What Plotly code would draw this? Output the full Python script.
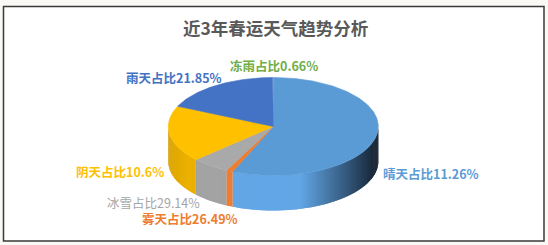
import math
import plotly.graph_objects as go

# ---- data ----
categories = ["晴天", "雾天", "冰雪", "阴天", "雨天", "冻雨"]
slice_shares = [56.0, 1.0, 5.8, 18.5, 18.0, 0.1]          # visual slice sizes (%)
label_pcts = ["11.26%", "26.49%", "29.14%", "10.6%", "21.85%", "0.66%"]  # printed in labels
title_text = "近3年春运天气趋势分析"

# ---- styles / layout ----
top_colors = ["#5B9BD5", "#ED7D31", "#A9A9A9", "#FFC000", "#4472C4", "#70AD47"]
side_base = ["#62A6E6", "#EE7D31", "#A3A3A3", "#EBB000", "#3F6AB8", "#64A03F"]
side_dark = ["#0E1824", "#7A3A10", "#555555", "#8A6600", "#1E3460", "#304F1E"]
label_colors = ["#5B9BD5", "#ED7D31", "#A5A5A5", "#FFC000", "#4472C4", "#70AD47"]
label_bold = [True, True, False, True, True, True]
label_pos = [(431, 173), (190, 218.5), (153, 202), (120, 171), (174, 77), (274, 65)]

W, H = 548, 245
CX, CY, A, B, DEPTH = 273.3, 126.5, 105.0, 49.0, 35.0
FONT = "Noto Sans CJK SC"


def hex2rgb(h):
    h = h.lstrip("#")
    return tuple(int(h[i:i + 2], 16) for i in (0, 2, 4))


def mix(c1, c2, t):
    a, b = hex2rgb(c1), hex2rgb(c2)
    return "rgb(%d,%d,%d)" % tuple(round(a[i] * (1 - t) + b[i] * t) for i in range(3))


def pt(theta_deg, dy=0.0):
    t = math.radians(theta_deg)
    return CX + A * math.sin(t), CY - B * math.cos(t) + dy


def shade(theta):
    # brightness factor for side wall (1 = base colour, 0 = darkest)
    if theta <= 165:
        g = max(0.0, (theta - 90) / 75.0) ** 1.6
    elif theta <= 235:
        g = 1.0
    else:
        g = 1.0 - 0.25 * min(1.0, (theta - 235) / 35.0)
    return g


fig = go.Figure()

total = sum(slice_shares)
bounds = []
acc = 0.0
for v in slice_shares:
    start = acc / total * 360.0
    acc += v
    bounds.append((start, acc / total * 360.0))

# side walls (front half, theta in [90, 270]) drawn as overlapping shaded strips
for i, (s, e) in enumerate(bounds):
    lo, hi = max(s, 90.0), min(e, 270.0)
    if hi <= lo:
        continue
    n = max(1, int(math.ceil((hi - lo) / 1.0)))
    for k in range(n):
        t0 = lo + (hi - lo) * k / n
        t1 = lo + (hi - lo) * (k + 1) / n
        col = mix(side_dark[i], side_base[i], shade(0.5 * (t0 + t1)))
        t1x = min(hi, t1 + 0.9)
        steps = [t0 + (t1x - t0) * j / 3 for j in range(4)]
        xs = [pt(t)[0] for t in steps] + [pt(t, DEPTH)[0] for t in reversed(steps)]
        ys = [pt(t)[1] for t in steps] + [pt(t, DEPTH)[1] for t in reversed(steps)]
        fig.add_trace(go.Scatter(x=xs, y=ys, mode="lines", fill="toself",
                                 fillcolor=col, line=dict(width=0),
                                 hoverinfo="skip", showlegend=False))

# top faces
for i, (s, e) in enumerate(bounds):
    n = max(2, int((e - s) / 1.0) + 2)
    angs = [s + (e - s) * j / (n - 1) for j in range(n)]
    xs = [CX] + [pt(t)[0] for t in angs] + [CX]
    ys = [CY] + [pt(t)[1] for t in angs] + [CY]
    lw = 0.6 if (e - s) > 2 else 0
    fig.add_trace(go.Scatter(x=xs, y=ys, mode="lines", fill="toself",
                             fillcolor=top_colors[i],
                             line=dict(color=top_colors[i], width=lw),
                             hoverinfo="skip", showlegend=False))

# data labels
for i, cat in enumerate(categories):
    txt = f"{cat}占比{label_pcts[i]}"
    if label_bold[i]:
        txt = f"<b>{txt}</b>"
    fig.add_annotation(x=label_pos[i][0], y=label_pos[i][1], text=txt, showarrow=False,
                       xanchor="center", yanchor="middle",
                       font=dict(family=FONT, size=12.5, color=label_colors[i]))

# title
fig.add_annotation(x=275, y=27, text=f"<b>{title_text}</b>", showarrow=False,
                   xanchor="center", yanchor="middle",
                   font=dict(family=FONT, size=17.5, color="#595959"))

# chart frame
fig.add_shape(type="rect", x0=3.5, y0=6.5, x1=544, y1=241, layer="below",
              line=dict(color="#3A3A3A", width=1.5), fillcolor="white")

fig.update_layout(
    width=W, height=H, margin=dict(l=0, r=0, t=0, b=0),
    paper_bgcolor="#FAF9F5", plot_bgcolor="rgba(0,0,0,0)",
    xaxis=dict(range=[0, W], visible=False, fixedrange=True),
    yaxis=dict(range=[H, 0], visible=False, fixedrange=True),
    showlegend=False,
)

fig.write_html("out.html", config={"displayModeBar": False})
